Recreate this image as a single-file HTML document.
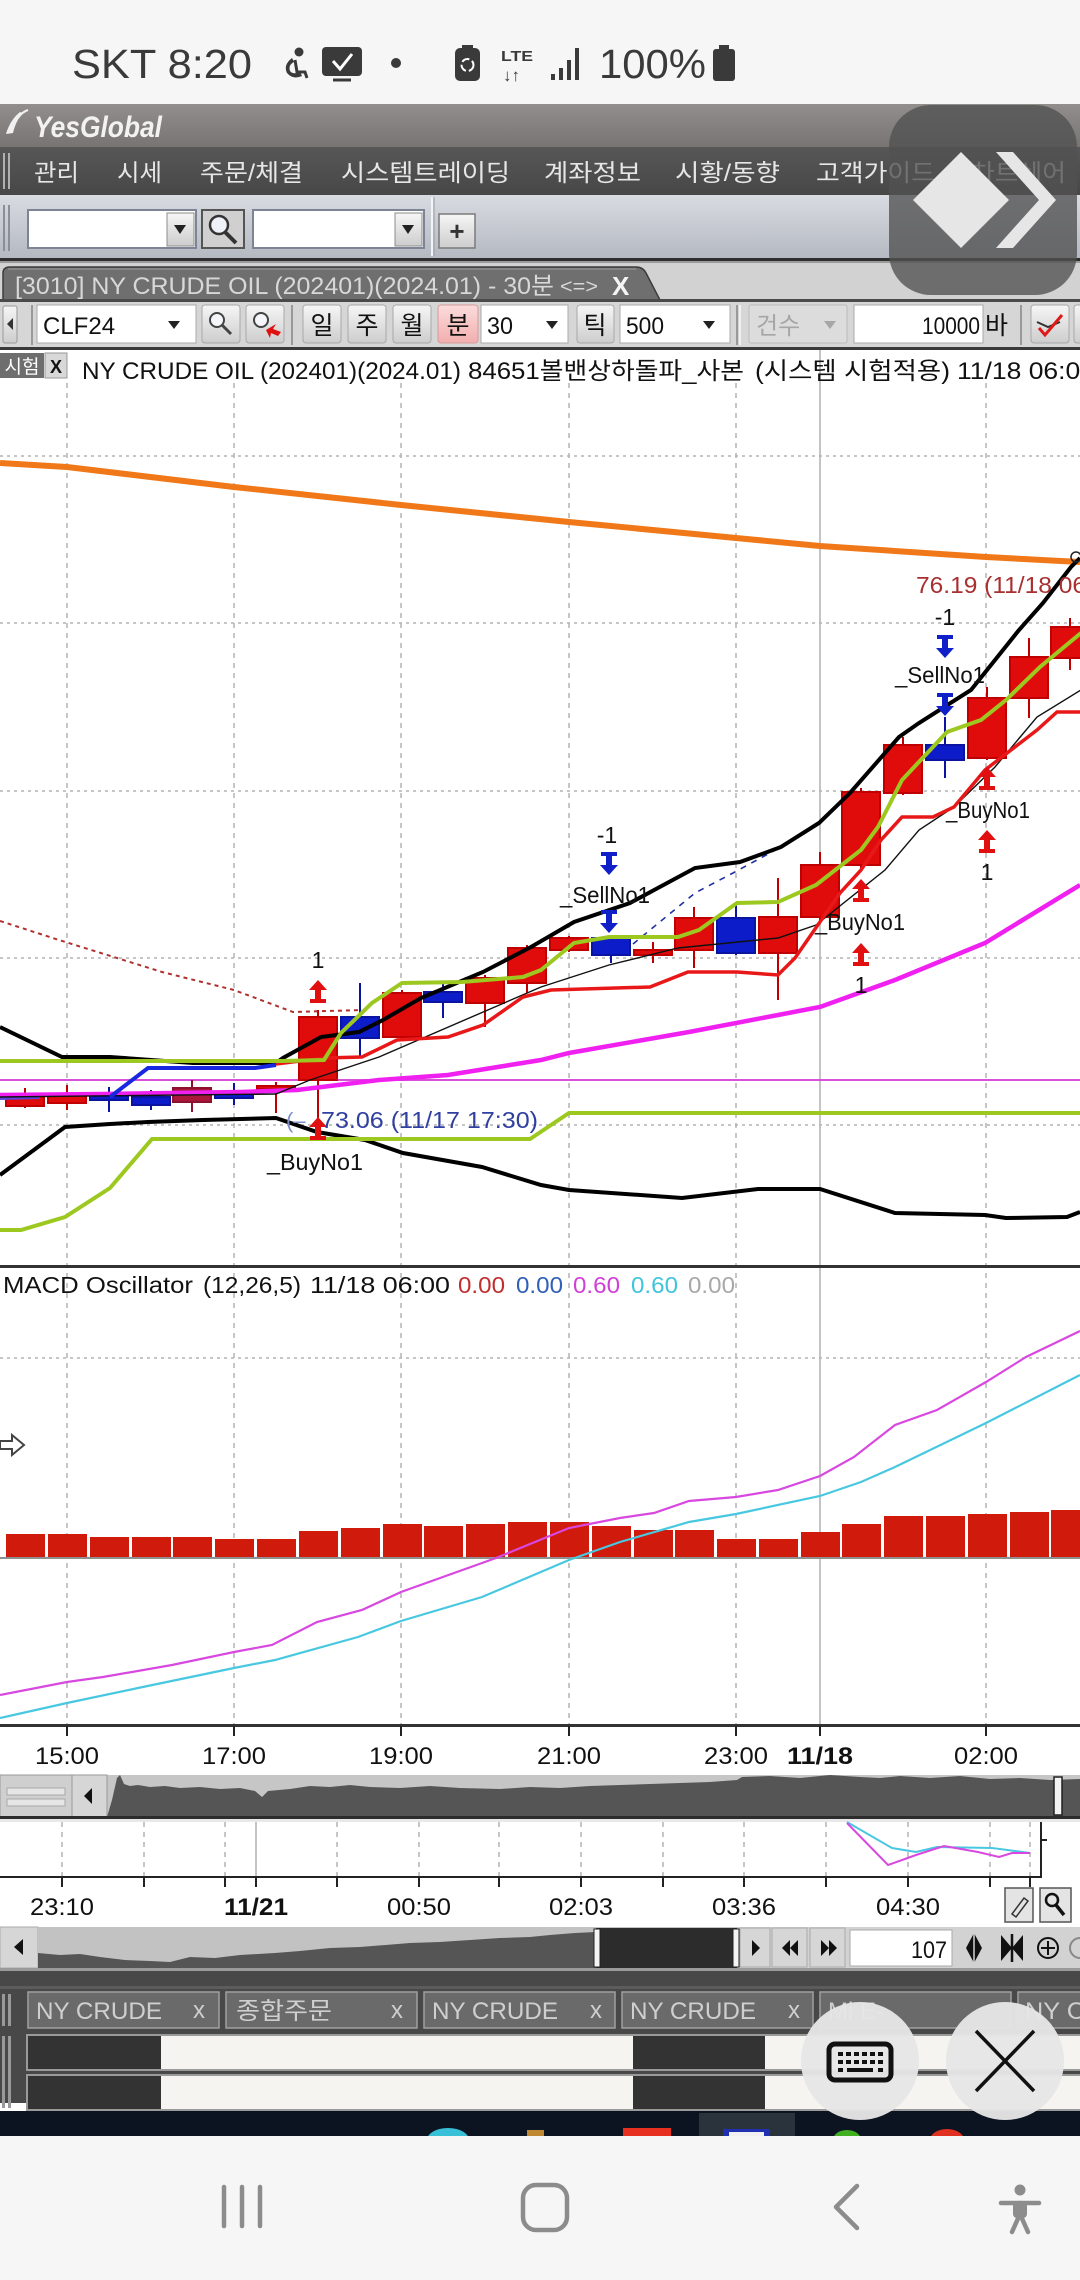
<!DOCTYPE html>
<html><head><meta charset="utf-8">
<style>
html,body{margin:0;padding:0;background:#fff;}
body{width:1080px;height:2280px;overflow:hidden;}
svg{display:block;}
text{font-family:"Liberation Sans","Noto Sans CJK KR",sans-serif;}
</style></head><body>
<svg width="1080" height="2280" viewBox="0 0 1080 2280" xmlns="http://www.w3.org/2000/svg">
<defs>
<linearGradient id="gTitle" x1="0" y1="0" x2="0" y2="1"><stop offset="0" stop-color="#928e8d"/><stop offset="1" stop-color="#787473"/></linearGradient>
<linearGradient id="gTool" x1="0" y1="0" x2="0" y2="1"><stop offset="0" stop-color="#d8dbe1"/><stop offset="1" stop-color="#b5b9c1"/></linearGradient>
<linearGradient id="gBtn" x1="0" y1="0" x2="0" y2="1"><stop offset="0" stop-color="#f6f6f6"/><stop offset="1" stop-color="#cdcdcd"/></linearGradient>
<linearGradient id="gPink" x1="0" y1="0" x2="0" y2="1"><stop offset="0" stop-color="#fcdcdc"/><stop offset="1" stop-color="#f2aeae"/></linearGradient>
<linearGradient id="gMenu" x1="0" y1="0" x2="0" y2="1"><stop offset="0" stop-color="#575757"/><stop offset="1" stop-color="#474747"/></linearGradient>
</defs>

<!-- ============ STATUS BAR ============ -->
<rect x="0" y="0" width="1080" height="104" fill="#f6f6f6"/>
<text x="72" y="78" font-size="41" fill="#3a3a3a" textLength="180" lengthAdjust="spacingAndGlyphs">SKT 8:20</text>
<circle cx="299" cy="52" r="4.5" fill="#3a3a3a"/>
<path d="M292,58 q-9,7 -5,15 q6,7 15,3 l-2,-4 q-7,3 -10,-1 q-2,-6 4,-9 z" fill="#3a3a3a"/>
<path d="M295,60 l2,12 l8,0 l2,6" stroke="#3a3a3a" stroke-width="3" fill="none"/>
<rect x="322" y="47" width="40" height="29" rx="4" fill="#3a3a3a"/>
<polyline points="333,61 340,69 352,54" stroke="#fff" stroke-width="3" fill="none"/>
<line x1="333" y1="80" x2="351" y2="80" stroke="#3a3a3a" stroke-width="3"/>
<circle cx="396" cy="63" r="5" fill="#3a3a3a"/>
<rect x="462" y="45" width="11" height="5" fill="#3a3a3a"/>
<rect x="455" y="48" width="25" height="33" rx="5" fill="#3a3a3a"/>
<circle cx="467.5" cy="65" r="6" fill="none" stroke="#fff" stroke-width="2" stroke-dasharray="8,3"/>
<text x="501" y="61" font-size="15" font-weight="bold" fill="#3a3a3a" textLength="32" lengthAdjust="spacingAndGlyphs">LTE</text>
<text x="503" y="81" font-size="17" fill="#3a3a3a">↓↑</text>
<rect x="551" y="74" width="4" height="6" fill="#3a3a3a"/>
<rect x="559" y="68" width="4" height="12" fill="#3a3a3a"/>
<rect x="567" y="60" width="4" height="20" fill="#3a3a3a"/>
<rect x="575" y="48" width="4" height="32" fill="#3a3a3a"/>
<text x="599" y="78" font-size="41" fill="#3a3a3a" textLength="107" lengthAdjust="spacingAndGlyphs">100%</text>
<rect x="719" y="45" width="10" height="5" fill="#3a3a3a"/>
<rect x="713" y="49" width="22" height="32" rx="3" fill="#3a3a3a"/>

<!-- ============ YESGLOBAL BAR ============ -->
<rect x="0" y="104" width="1080" height="43" fill="url(#gTitle)"/>
<path d="M6,134 q4,-14 14,-22 l3,1 q-7,7 -10,20 z" fill="#f0f0f0"/>
<path d="M18,118 q4,-6 10,-8" stroke="#f0f0f0" stroke-width="2" fill="none"/>
<text x="34" y="137" font-size="30" font-style="italic" font-weight="bold" fill="#f2f2f2" textLength="128" lengthAdjust="spacingAndGlyphs">YesGlobal</text>

<!-- ============ MENU BAR ============ -->
<rect x="0" y="147" width="1080" height="48" fill="url(#gMenu)"/>
<rect x="3" y="153" width="2" height="36" fill="#b0b0b0"/>
<rect x="8" y="153" width="2" height="36" fill="#b0b0b0"/>
<g font-size="24" fill="#e6e6e6">
<text x="34" y="181" textLength="45" lengthAdjust="spacingAndGlyphs">관리</text>
<text x="117" y="181" textLength="45" lengthAdjust="spacingAndGlyphs">시세</text>
<text x="200" y="181" textLength="103" lengthAdjust="spacingAndGlyphs">주문/체결</text>
<text x="341" y="181" textLength="169" lengthAdjust="spacingAndGlyphs">시스템트레이딩</text>
<text x="544" y="181" textLength="97" lengthAdjust="spacingAndGlyphs">계좌정보</text>
<text x="675" y="181" textLength="105" lengthAdjust="spacingAndGlyphs">시황/동향</text>
<text x="816" y="181" textLength="119" lengthAdjust="spacingAndGlyphs">고객가이드</text>
<text x="971" y="181" textLength="95" lengthAdjust="spacingAndGlyphs">차트쉐어</text>
</g>

<!-- ============ TOOLBAR 1 ============ -->
<rect x="0" y="195" width="1080" height="63" fill="url(#gTool)"/>
<rect x="3" y="205" width="2" height="46" fill="#8a8e96"/>
<rect x="8" y="205" width="2" height="46" fill="#8a8e96"/>
<rect x="28" y="210" width="168" height="38" fill="#fff" stroke="#7d8594" stroke-width="2"/>
<rect x="167" y="213" width="27" height="33" fill="url(#gBtn)" stroke="#8c8c8c"/>
<polygon points="174,225 186,225 180,234" fill="#222"/>
<rect x="202" y="210" width="42" height="38" fill="#d0d0d0" stroke="#555" stroke-width="2"/>
<circle cx="219" cy="225" r="9" fill="#eef2f8" stroke="#333" stroke-width="2.5"/>
<line x1="225" y1="232" x2="236" y2="243" stroke="#333" stroke-width="4"/>
<rect x="253" y="210" width="171" height="38" fill="#fff" stroke="#7d8594" stroke-width="2"/>
<rect x="395" y="213" width="27" height="33" fill="url(#gBtn)" stroke="#8c8c8c"/>
<polygon points="402,225 414,225 408,234" fill="#222"/>
<line x1="432" y1="197" x2="432" y2="256" stroke="#f2f4f8" stroke-width="2"/>
<line x1="434" y1="197" x2="434" y2="256" stroke="#9a9ea6" stroke-width="1"/>
<rect x="439" y="214" width="36" height="34" fill="url(#gBtn)" stroke="#7a7a7a" stroke-width="1.5"/>
<text x="457" y="240" font-size="26" font-weight="bold" fill="#333" text-anchor="middle">+</text>
<rect x="0" y="258" width="1080" height="3" fill="#2e2e2e"/>
<rect x="0" y="261" width="1080" height="2" fill="#9a9a9a"/>

<!-- ============ TAB ROW ============ -->
<rect x="0" y="263" width="1080" height="37" fill="#d2d2d2"/>
<path d="M3,300 L3,273 Q3,267 10,267 L636,267 Q643,267 646,273 L660,300 Z" fill="#6f6f6f" stroke="#3c3c3c" stroke-width="1.5"/>
<line x1="8" y1="269" x2="636" y2="269" stroke="#8e8e8e" stroke-width="1.5"/>
<text x="15" y="294" font-size="24" fill="#d8d8d8" textLength="539" lengthAdjust="spacingAndGlyphs">[3010] NY CRUDE OIL (202401)(2024.01) - 30분</text>
<text x="560" y="293" font-size="20" fill="#d8d8d8" textLength="38" lengthAdjust="spacingAndGlyphs">&lt;=&gt;</text>
<text x="612" y="295" font-size="26" font-weight="bold" fill="#f4f4f4">X</text>
<rect x="0" y="299" width="1080" height="3" fill="#4a4a4a"/>

<!-- ============ TOOLBAR 2 ============ -->
<rect x="0" y="302" width="1080" height="46" fill="#d6d6d6"/>
<rect x="3" y="306" width="14" height="37" rx="2" fill="url(#gBtn)" stroke="#999"/>
<polygon points="13,318 7,324 13,330" fill="#333"/>
<line x1="32" y1="305" x2="32" y2="345" stroke="#999" stroke-width="2"/>
<rect x="37" y="305" width="159" height="38" fill="#fff" stroke="#aaa"/>
<text x="43" y="334" font-size="24" fill="#111">CLF24</text>
<polygon points="168,321 180,321 174,329" fill="#222"/>
<rect x="202" y="305" width="38" height="38" rx="3" fill="url(#gBtn)" stroke="#a8a8a8"/>
<circle cx="217" cy="320" r="7" fill="#f4f6fa" stroke="#444" stroke-width="2"/>
<line x1="222" y1="325" x2="231" y2="334" stroke="#444" stroke-width="3"/>
<rect x="246" y="305" width="38" height="38" rx="3" fill="url(#gBtn)" stroke="#a8a8a8"/>
<circle cx="261" cy="320" r="7" fill="#f4f6fa" stroke="#444" stroke-width="2"/>
<path d="M266,330 l10,-6 l-3,5 l8,3 l-3,4 l-7,-3 l-1,5 z" fill="#e01010"/>
<line x1="292" y1="305" x2="292" y2="345" stroke="#999" stroke-width="2"/>
<g font-size="25" fill="#111" text-anchor="middle">
<rect x="303" y="305" width="38" height="38" rx="3" fill="url(#gBtn)" stroke="#a8a8a8"/>
<text x="322" y="334">일</text>
<rect x="348" y="305" width="38" height="38" rx="3" fill="url(#gBtn)" stroke="#a8a8a8"/>
<text x="367" y="334">주</text>
<rect x="393" y="305" width="38" height="38" rx="3" fill="url(#gBtn)" stroke="#a8a8a8"/>
<text x="412" y="334">월</text>
<rect x="438" y="305" width="40" height="38" rx="3" fill="url(#gPink)" stroke="#d89a9a"/>
<text x="458" y="334">분</text>
<rect x="577" y="305" width="37" height="38" rx="3" fill="url(#gBtn)" stroke="#a8a8a8"/>
<text x="595" y="334">틱</text>
</g>
<rect x="481" y="305" width="87" height="38" fill="#fff" stroke="#aaa"/>
<text x="487" y="334" font-size="24" fill="#111" textLength="26" lengthAdjust="spacingAndGlyphs">30</text>
<polygon points="546,321 558,321 552,329" fill="#222"/>
<rect x="620" y="305" width="110" height="38" fill="#fff" stroke="#aaa"/>
<text x="626" y="334" font-size="24" fill="#111" textLength="38" lengthAdjust="spacingAndGlyphs">500</text>
<polygon points="703,321 715,321 709,329" fill="#222"/>
<line x1="737" y1="305" x2="737" y2="345" stroke="#999" stroke-width="2"/>
<line x1="740" y1="305" x2="740" y2="345" stroke="#f0f0f0" stroke-width="2"/>
<rect x="749" y="305" width="98" height="38" rx="2" fill="#dcdcdc" stroke="#bbb"/>
<text x="756" y="334" font-size="24" fill="#a6a6a6">건수</text>
<polygon points="824,321 836,321 830,329" fill="#a6a6a6"/>
<rect x="854" y="305" width="129" height="38" fill="#fff" stroke="#aaa"/>
<text x="980" y="334" font-size="24" fill="#111" text-anchor="end" textLength="58" lengthAdjust="spacingAndGlyphs">10000</text>
<text x="985" y="334" font-size="25" fill="#111">바</text>
<line x1="1021" y1="305" x2="1021" y2="345" stroke="#999" stroke-width="2"/>
<rect x="1031" y="305" width="38" height="38" rx="3" fill="url(#gBtn)" stroke="#a8a8a8"/>
<polyline points="1037,322 1048,327 1060,322" stroke="#333" stroke-width="2" fill="none"/>
<polyline points="1039,328 1045,335 1062,315" stroke="#e01818" stroke-width="3" fill="none"/>
<rect x="1074" y="305" width="10" height="38" rx="3" fill="url(#gBtn)" stroke="#a8a8a8"/>
<rect x="0" y="347" width="1080" height="3" fill="#3a3a3a"/>

<!-- ============ CHART AREA ============ -->
<rect x="0" y="350" width="1080" height="1425" fill="#ffffff"/>

<!-- grid vertical dashed -->
<g stroke="#a8a8a8" stroke-width="1.3" stroke-dasharray="5,5">
<line x1="67" y1="383" x2="67" y2="1725"/>
<line x1="234" y1="383" x2="234" y2="1725"/>
<line x1="401" y1="383" x2="401" y2="1725"/>
<line x1="569" y1="383" x2="569" y2="1725"/>
<line x1="736" y1="383" x2="736" y2="1725"/>
<line x1="986" y1="383" x2="986" y2="1725"/>
</g>
<line x1="820" y1="350" x2="820" y2="1725" stroke="#c4c4c4" stroke-width="2"/>
<!-- grid horizontal dotted -->
<g stroke="#b4b4b4" stroke-width="1.6" stroke-dasharray="3,4">
<line x1="0" y1="456" x2="1080" y2="456"/>
<line x1="0" y1="623" x2="1080" y2="623"/>
<line x1="0" y1="791" x2="1080" y2="791"/>
<line x1="0" y1="958" x2="1080" y2="958"/>
<line x1="0" y1="1125" x2="1080" y2="1125"/>
<line x1="0" y1="1358" x2="1080" y2="1358"/>
</g>

<!-- title line -->
<rect x="0" y="353" width="44" height="25" fill="#6e6e6e"/>
<text x="22" y="373" font-size="19" fill="#fff" text-anchor="middle">시험</text>
<rect x="45" y="353" width="22" height="25" fill="#d8d8d8" stroke="#999"/>
<text x="56" y="373" font-size="18" font-weight="bold" fill="#111" text-anchor="middle">X</text>
<g font-size="24" fill="#111">
<text x="82" y="379" textLength="379" lengthAdjust="spacingAndGlyphs">NY CRUDE OIL (202401)(2024.01)</text>
<text x="468" y="379" textLength="276" lengthAdjust="spacingAndGlyphs">84651볼밴상하돌파_사본</text>
<text x="755" y="379" textLength="195" lengthAdjust="spacingAndGlyphs">(시스템 시험적용)</text>
<text x="957" y="379" textLength="138" lengthAdjust="spacingAndGlyphs">11/18 06:00</text>
</g>

<!-- orange line -->
<polyline points="0,463 67,467 234,487 401,505 569,522 736,538 820,546 986,557 1080,562" fill="none" stroke="#f07818" stroke-width="6"/>

<!-- dotted red -->
<polyline points="0,921 59,940 162,972 234,990 293,1012 362,1010" fill="none" stroke="#b03030" stroke-width="2" stroke-dasharray="4,4"/>
<!-- blue dashed -->
<polyline points="633,944 695,893 733,873 781,847 826,817" fill="none" stroke="#2030a0" stroke-width="1.6" stroke-dasharray="6,6"/>

<!-- horizontal thin magenta -->
<line x1="0" y1="1080" x2="1080" y2="1080" stroke="#d850d8" stroke-width="2"/>

<!-- candles -->
<g stroke-width="2">
<g fill="#e00c0c" stroke="#c00000">
<line x1="25" y1="1088" x2="25" y2="1108"/><rect x="6" y="1096" width="38" height="10"/>
<line x1="67" y1="1085" x2="67" y2="1110"/><rect x="48" y="1095" width="38" height="8"/>
<line x1="276" y1="1082" x2="276" y2="1113"/><rect x="257" y="1086" width="38" height="3"/>
<line x1="318" y1="1010" x2="318" y2="1130"/><rect x="299" y="1017" width="38" height="63"/>
<line x1="402" y1="990" x2="402" y2="1040"/><rect x="383" y="993" width="38" height="44"/>
<line x1="485" y1="975" x2="485" y2="1027"/><rect x="466" y="978" width="38" height="25"/>
<line x1="527" y1="945" x2="527" y2="993"/><rect x="508" y="948" width="38" height="35"/>
<line x1="569" y1="936" x2="569" y2="952"/><rect x="550" y="938" width="38" height="12"/>
<line x1="653" y1="942" x2="653" y2="963"/><rect x="634" y="950" width="38" height="5"/>
<line x1="694" y1="907" x2="694" y2="968"/><rect x="675" y="918" width="38" height="32"/>
<line x1="778" y1="878" x2="778" y2="1000"/><rect x="759" y="917" width="38" height="36"/>
<line x1="820" y1="852" x2="820" y2="920"/><rect x="801" y="865" width="38" height="52"/>
<line x1="861" y1="788" x2="861" y2="868"/><rect x="842" y="792" width="38" height="73"/>
<line x1="903" y1="737" x2="903" y2="795"/><rect x="884" y="745" width="38" height="48"/>
<line x1="987" y1="687" x2="987" y2="760"/><rect x="968" y="698" width="38" height="60"/>
<line x1="1029" y1="638" x2="1029" y2="718"/><rect x="1010" y="657" width="38" height="41"/>
<line x1="1070" y1="618" x2="1070" y2="670"/><rect x="1051" y="627" width="38" height="31"/>
</g>
<g fill="#a8183a" stroke="#901030">
<line x1="192" y1="1080" x2="192" y2="1112"/><rect x="173" y="1088" width="38" height="14"/>
</g>
<g fill="#0c1cc8" stroke="#0a14a0">
<line x1="109" y1="1087" x2="109" y2="1112"/><rect x="90" y="1096" width="38" height="4"/>
<line x1="151" y1="1090" x2="151" y2="1110"/><rect x="132" y="1097" width="38" height="8"/>
<line x1="234" y1="1083" x2="234" y2="1105"/><rect x="215" y="1094" width="38" height="4"/>
<line x1="360" y1="983" x2="360" y2="1058"/><rect x="341" y="1017" width="38" height="21"/>
<line x1="443" y1="983" x2="443" y2="1018"/><rect x="424" y="992" width="38" height="10"/>
<line x1="611" y1="935" x2="611" y2="963"/><rect x="592" y="938" width="38" height="17"/>
<line x1="736" y1="902" x2="736" y2="955"/><rect x="717" y="918" width="38" height="35"/>
<line x1="945" y1="717" x2="945" y2="778"/><rect x="926" y="745" width="38" height="15"/>
</g>
</g>

<polyline points="0,1098 40,1097" stroke="#6040e0" stroke-width="4" fill="none"/>

<!-- magenta thick -->
<polyline points="0,1095 103,1094 241,1092 297,1090 379,1080 448,1075 541,1060 569,1053 689,1032 820,1007 895,980 985,943 1080,885" fill="none" stroke="#f020f0" stroke-width="4.5"/>

<!-- black upper band -->
<polyline points="0,1027 62,1057 110,1057 193,1063 276,1063 283,1058 321,1037 359,1032 383,1020 421,998 483,972 531,947 574,922 630,903 695,868 740,862 781,847 819,823 850,793 899,737 919,723 971,690 1019,630 1043,603 1071,567 1080,558" fill="none" stroke="#000" stroke-width="4"/>
<!-- black lower band -->
<polyline points="0,1175 65,1127 110,1124 148,1122 203,1120 276,1118 317,1132 365,1140 403,1153 482,1167 541,1185 569,1190 682,1198 758,1189 820,1189 895,1213 985,1215 1006,1218 1067,1217 1080,1212" fill="none" stroke="#000" stroke-width="4"/>

<!-- thin black MA -->
<polyline points="0,1097 276,1094 310,1080 379,1057 541,987 609,965 678,948 778,938 816,925 885,870 919,830 954,807 995,767 1037,717 1081,690" fill="none" stroke="#111" stroke-width="1.4"/>

<!-- blue thick -->
<polyline points="110,1097 148,1068 255,1068 276,1065" fill="none" stroke="#1828e0" stroke-width="4"/>

<!-- red line -->
<polyline points="276,1064 324,1058 362,1057 397,1040 448,1037 483,1025 523,997 551,990 650,987 688,972 737,972 778,975 795,958 840,893 861,870 881,840 902,817 933,817 954,807 985,770 1037,730 1057,712 1081,712" fill="none" stroke="#e81818" stroke-width="3.5"/>

<!-- green upper/MA -->
<polyline points="0,1061 282,1061 324,1060 341,1033 372,1003 402,983 462,982 523,977 541,970 574,943 609,937 678,937 699,930 737,903 778,902 816,885 861,850 878,827 902,780 947,732 981,720 1006,700 1040,667 1081,633" fill="none" stroke="#9cc820" stroke-width="4"/>
<!-- green lower -->
<polyline points="0,1230 21,1230 65,1217 110,1188 152,1139 530,1139 569,1113 1080,1113" fill="none" stroke="#9cc820" stroke-width="4"/>

<circle cx="1076" cy="557" r="5" fill="none" stroke="#222" stroke-width="1.5"/>

<!-- markers: up arrows (red) -->
<g fill="#e01010">
<path d="M318,980 l9,10 h-6 v9 h5 v4 h-16 v-4 h5 v-9 h-6 z"/>
<path d="M318,1117 l9,10 h-6 v9 h5 v4 h-16 v-4 h5 v-9 h-6 z"/>
<path d="M861,879 l9,10 h-6 v9 h5 v4 h-16 v-4 h5 v-9 h-6 z"/>
<path d="M861,943 l9,10 h-6 v9 h5 v4 h-16 v-4 h5 v-9 h-6 z"/>
<path d="M987,767 l9,10 h-6 v9 h5 v4 h-16 v-4 h5 v-9 h-6 z"/>
<path d="M987,830 l9,10 h-6 v9 h5 v4 h-16 v-4 h5 v-9 h-6 z"/>
</g>
<!-- down arrows (blue) -->
<g fill="#1020c8">
<path d="M601,852 h16 v4 h-5 v9 h6 l-9,10 l-9,-10 h6 v-9 h-5 z"/>
<path d="M601,910 h16 v4 h-5 v9 h6 l-9,10 l-9,-10 h6 v-9 h-5 z"/>
<path d="M937,635 h16 v4 h-5 v9 h6 l-9,10 l-9,-10 h6 v-9 h-5 z"/>
<path d="M937,693 h16 v4 h-5 v9 h6 l-9,10 l-9,-10 h6 v-9 h-5 z"/>
</g>
<g font-size="23" fill="#111" text-anchor="middle">
<text x="318" y="968">1</text>
<text x="315" y="1170" textLength="96" lengthAdjust="spacingAndGlyphs">_BuyNo1</text>
<text x="607" y="843">-1</text>
<text x="605" y="903" textLength="90" lengthAdjust="spacingAndGlyphs">_SellNo1</text>
<text x="860" y="930" textLength="90" lengthAdjust="spacingAndGlyphs">_BuyNo1</text>
<text x="861" y="993">1</text>
<text x="945" y="625">-1</text>
<text x="940" y="683" textLength="90" lengthAdjust="spacingAndGlyphs">_SellNo1</text>
<text x="988" y="818" textLength="84" lengthAdjust="spacingAndGlyphs">_BuyNo1</text>
<text x="987" y="880">1</text>
</g>
<text x="916" y="593" font-size="23" fill="#a83030" textLength="170" lengthAdjust="spacingAndGlyphs">76.19 (11/18 06</text>
<text x="286" y="1128" font-size="22" fill="#8090c8">(–</text>
<text x="321" y="1128" font-size="23" fill="#3040a0" textLength="217" lengthAdjust="spacingAndGlyphs">73.06 (11/17 17:30)</text>

<!-- divider main / MACD -->
<rect x="0" y="1265" width="1080" height="3" fill="#333"/>

<!-- ============ MACD ============ -->
<g font-size="23">
<text x="3" y="1293" fill="#111" textLength="190" lengthAdjust="spacingAndGlyphs">MACD Oscillator</text>
<text x="203" y="1293" fill="#111" textLength="98" lengthAdjust="spacingAndGlyphs">(12,26,5)</text>
<text x="310" y="1293" fill="#111" textLength="140" lengthAdjust="spacingAndGlyphs">11/18 06:00</text>
<text x="458" y="1293" fill="#c03030" textLength="47" lengthAdjust="spacingAndGlyphs">0.00</text>
<text x="516" y="1293" fill="#3060b8" textLength="47" lengthAdjust="spacingAndGlyphs">0.00</text>
<text x="573" y="1293" fill="#d040d8" textLength="47" lengthAdjust="spacingAndGlyphs">0.60</text>
<text x="631" y="1293" fill="#40c4dc" textLength="47" lengthAdjust="spacingAndGlyphs">0.60</text>
<text x="688" y="1293" fill="#a8a8a8" textLength="47" lengthAdjust="spacingAndGlyphs">0.00</text>
</g>
<path d="M0,1441 h12 v-6 l12,10 l-12,10 v-6 h-12 z" fill="#fff" stroke="#444" stroke-width="2"/>

<!-- histogram -->
<g fill="#d01a0c">
<rect x="6" y="1534" width="39" height="24"/>
<rect x="48" y="1534" width="39" height="24"/>
<rect x="90" y="1537" width="39" height="21"/>
<rect x="132" y="1537" width="39" height="21"/>
<rect x="173" y="1537" width="39" height="21"/>
<rect x="215" y="1539" width="39" height="19"/>
<rect x="257" y="1539" width="39" height="19"/>
<rect x="299" y="1531" width="39" height="27"/>
<rect x="341" y="1528" width="39" height="30"/>
<rect x="383" y="1524" width="39" height="34"/>
<rect x="424" y="1526" width="39" height="32"/>
<rect x="466" y="1524" width="39" height="34"/>
<rect x="508" y="1522" width="39" height="36"/>
<rect x="550" y="1522" width="39" height="36"/>
<rect x="592" y="1526" width="39" height="32"/>
<rect x="634" y="1530" width="39" height="28"/>
<rect x="675" y="1530" width="39" height="28"/>
<rect x="717" y="1539" width="39" height="19"/>
<rect x="759" y="1539" width="39" height="19"/>
<rect x="801" y="1532" width="39" height="26"/>
<rect x="842" y="1524" width="39" height="34"/>
<rect x="884" y="1516" width="39" height="42"/>
<rect x="926" y="1516" width="39" height="42"/>
<rect x="968" y="1514" width="39" height="44"/>
<rect x="1010" y="1512" width="39" height="46"/>
<rect x="1051" y="1510" width="39" height="48"/>
</g>
<line x1="0" y1="1558" x2="1080" y2="1558" stroke="#909090" stroke-width="2"/>

<polyline points="0,1695 67,1682 103,1677 172,1665 234,1652 272,1645 317,1622 362,1610 401,1592 496,1558 569,1528 620,1518 654,1513 689,1501 736,1497 778,1490 820,1476 854,1457 895,1425 937,1410 986,1382 1026,1357 1080,1331" fill="none" stroke="#d848e0" stroke-width="2.2"/>
<polyline points="0,1718 67,1703 138,1688 234,1668 275,1660 358,1637 401,1621 482,1597 569,1560 620,1542 689,1522 736,1514 820,1496 861,1482 895,1467 986,1423 1080,1375" fill="none" stroke="#48c8e0" stroke-width="2.2"/>

<rect x="0" y="1724" width="1080" height="3" fill="#333"/>
<g stroke="#222" stroke-width="2">
<line x1="67" y1="1726" x2="67" y2="1736"/>
<line x1="234" y1="1726" x2="234" y2="1736"/>
<line x1="401" y1="1726" x2="401" y2="1736"/>
<line x1="569" y1="1726" x2="569" y2="1736"/>
<line x1="736" y1="1726" x2="736" y2="1736"/>
<line x1="820" y1="1726" x2="820" y2="1736"/>
<line x1="986" y1="1726" x2="986" y2="1736"/>
</g>
<g font-size="24" fill="#111" text-anchor="middle">
<text x="67" y="1764" textLength="64" lengthAdjust="spacingAndGlyphs">15:00</text>
<text x="234" y="1764" textLength="64" lengthAdjust="spacingAndGlyphs">17:00</text>
<text x="401" y="1764" textLength="64" lengthAdjust="spacingAndGlyphs">19:00</text>
<text x="569" y="1764" textLength="64" lengthAdjust="spacingAndGlyphs">21:00</text>
<text x="736" y="1764" textLength="64" lengthAdjust="spacingAndGlyphs">23:00</text>
<text x="820" y="1764" font-weight="bold" textLength="66" lengthAdjust="spacingAndGlyphs">11/18</text>
<text x="986" y="1764" textLength="64" lengthAdjust="spacingAndGlyphs">02:00</text>
</g>

<!-- ============ SCROLL ROW 1 ============ -->
<rect x="0" y="1775" width="1080" height="42" fill="#c6c6c6"/>
<rect x="0" y="1775" width="72" height="42" fill="#cfcfcf" stroke="#9a9a9a"/>
<rect x="7" y="1788" width="58" height="7" fill="#e6e6e6" stroke="#a8a8a8"/>
<rect x="7" y="1799" width="58" height="7" fill="#e6e6e6" stroke="#a8a8a8"/>
<rect x="72" y="1775" width="35" height="42" fill="#d6d6d6" stroke="#9a9a9a"/>
<polygon points="92,1788 84,1796 92,1804" fill="#111"/>
<path d="M107,1817 L112,1800 L117,1778 L120,1775 L124,1784 L130,1786 L138,1785 L150,1787 L165,1786 L180,1788 L200,1787 L220,1789 L240,1788 L255,1791 L262,1797 L268,1791 L290,1789 L310,1786 L330,1787 L350,1785 L370,1787 L400,1788 L430,1786 L460,1788 L500,1789 L530,1787 L560,1788 L590,1786 L620,1785 L650,1784 L680,1783 L710,1782 L737,1780 L742,1777 L770,1776 L800,1778 L830,1775 L860,1777 L880,1778 L900,1776 L930,1778 L960,1776 L990,1779 L1020,1778 L1050,1780 L1080,1779 L1080,1817 Z" fill="#555"/>
<rect x="1054" y="1777" width="8" height="38" fill="#f2f2f2" stroke="#222" stroke-width="1.5"/>
<rect x="0" y="1816" width="1080" height="3" fill="#2c2c2c"/>
<rect x="0" y="1819" width="1080" height="3" fill="#e8e8e8"/>

<!-- ============ MINI PANEL ============ -->
<rect x="0" y="1822" width="1041" height="55" fill="#fff"/>
<g stroke="#a8a8a8" stroke-width="1.3" stroke-dasharray="5,5">
<line x1="62" y1="1822" x2="62" y2="1877"/>
<line x1="144" y1="1822" x2="144" y2="1877"/>
<line x1="225" y1="1822" x2="225" y2="1877"/>
<line x1="337" y1="1822" x2="337" y2="1877"/>
<line x1="419" y1="1822" x2="419" y2="1877"/>
<line x1="499" y1="1822" x2="499" y2="1877"/>
<line x1="581" y1="1822" x2="581" y2="1877"/>
<line x1="663" y1="1822" x2="663" y2="1877"/>
<line x1="744" y1="1822" x2="744" y2="1877"/>
<line x1="826" y1="1822" x2="826" y2="1877"/>
<line x1="908" y1="1822" x2="908" y2="1877"/>
<line x1="990" y1="1822" x2="990" y2="1877"/>
<line x1="1030" y1="1822" x2="1030" y2="1877"/>
</g>
<line x1="256" y1="1822" x2="256" y2="1877" stroke="#c4c4c4" stroke-width="2"/>
<polyline points="847,1822 892,1848 916,1852 937,1847 992,1848 1030,1853" fill="none" stroke="#48c8e0" stroke-width="2"/>
<polyline points="847,1823 888,1865 916,1855 944,1846 978,1852 999,1857 1012,1853 1030,1853" fill="none" stroke="#d848e0" stroke-width="2"/>
<line x1="1041" y1="1822" x2="1041" y2="1878" stroke="#222" stroke-width="2"/>
<line x1="1041" y1="1840" x2="1047" y2="1840" stroke="#222" stroke-width="2"/>
<rect x="0" y="1876" width="1042" height="2" fill="#222"/>
<g stroke="#222" stroke-width="2">
<line x1="62" y1="1877" x2="62" y2="1887"/><line x1="144" y1="1877" x2="144" y2="1887"/>
<line x1="225" y1="1877" x2="225" y2="1887"/><line x1="256" y1="1877" x2="256" y2="1887"/>
<line x1="337" y1="1877" x2="337" y2="1887"/><line x1="419" y1="1877" x2="419" y2="1887"/>
<line x1="499" y1="1877" x2="499" y2="1887"/><line x1="581" y1="1877" x2="581" y2="1887"/>
<line x1="663" y1="1877" x2="663" y2="1887"/><line x1="744" y1="1877" x2="744" y2="1887"/>
<line x1="826" y1="1877" x2="826" y2="1887"/><line x1="908" y1="1877" x2="908" y2="1887"/>
<line x1="990" y1="1877" x2="990" y2="1887"/><line x1="1030" y1="1877" x2="1030" y2="1887"/>
</g>
<g font-size="24" fill="#111" text-anchor="middle">
<text x="62" y="1915" textLength="64" lengthAdjust="spacingAndGlyphs">23:10</text>
<text x="256" y="1915" font-weight="bold" textLength="64" lengthAdjust="spacingAndGlyphs">11/21</text>
<text x="419" y="1915" textLength="64" lengthAdjust="spacingAndGlyphs">00:50</text>
<text x="581" y="1915" textLength="64" lengthAdjust="spacingAndGlyphs">02:03</text>
<text x="744" y="1915" textLength="64" lengthAdjust="spacingAndGlyphs">03:36</text>
<text x="908" y="1915" textLength="64" lengthAdjust="spacingAndGlyphs">04:30</text>
</g>
<rect x="1005" y="1888" width="28" height="34" fill="#e4e4e4" stroke="#555" stroke-width="1.5"/>
<path d="M1012,1914 l12,-16 l4,3 l-12,16 z" fill="none" stroke="#333" stroke-width="1.5"/>
<rect x="1040" y="1888" width="31" height="34" fill="#e4e4e4" stroke="#555" stroke-width="1.5"/>
<circle cx="1052" cy="1900" r="6" fill="none" stroke="#111" stroke-width="2.5"/>
<line x1="1056" y1="1905" x2="1064" y2="1915" stroke="#111" stroke-width="3.5"/>

<!-- ============ SCROLL ROW 2 ============ -->
<rect x="0" y="1927" width="1080" height="41" fill="#d2d2d2"/>
<rect x="0" y="1927" width="38" height="41" fill="#d6d6d6" stroke="#aaa"/>
<polygon points="23,1939 14,1947 23,1955" fill="#111"/>
<rect x="38" y="1927" width="700" height="41" fill="#c2c2c2"/>
<path d="M38,1968 L38,1953 L60,1955 L80,1954 L100,1957 L125,1960 L150,1961 L170,1962 L190,1957 L215,1958 L240,1955 L275,1953 L300,1951 L330,1948 L360,1947 L410,1943 L440,1942 L470,1940 L500,1938 L530,1937 L550,1935 L575,1933 L596,1932 L596,1968 Z" fill="#555"/>
<rect x="596" y="1928" width="141" height="40" fill="#2c2c2c"/>
<rect x="594" y="1929" width="6" height="38" fill="#f4f4f4" stroke="#222"/>
<rect x="733" y="1929" width="6" height="38" fill="#f4f4f4" stroke="#222"/>
<rect x="740" y="1928" width="30" height="39" fill="#d6d6d6" stroke="#aaa"/>
<polygon points="752,1940 760,1948 752,1956" fill="#111"/>
<rect x="772" y="1928" width="35" height="39" fill="#d6d6d6" stroke="#aaa"/>
<polygon points="790,1940 782,1948 790,1956" fill="#111"/><polygon points="798,1940 790,1948 798,1956" fill="#111"/>
<rect x="810" y="1928" width="35" height="39" fill="#d6d6d6" stroke="#aaa"/>
<polygon points="821,1940 829,1948 821,1956" fill="#111"/><polygon points="829,1940 837,1948 829,1956" fill="#111"/>
<rect x="850" y="1930" width="102" height="36" fill="#fff" stroke="#aaa"/>
<text x="947" y="1958" font-size="24" fill="#111" text-anchor="end" textLength="36" lengthAdjust="spacingAndGlyphs">107</text>
<polygon points="966,1948 974,1933 982,1948 974,1963" fill="#111"/>
<line x1="974" y1="1933" x2="974" y2="1963" stroke="#d2d2d2" stroke-width="1.5"/>
<polygon points="1001,1935 1012,1948 1001,1961" fill="#111"/>
<polygon points="1023,1935 1012,1948 1023,1961" fill="#111"/>
<line x1="1012" y1="1934" x2="1012" y2="1962" stroke="#111" stroke-width="2.5"/>
<circle cx="1048" cy="1948" r="10" fill="none" stroke="#111" stroke-width="2"/>
<line x1="1041" y1="1948" x2="1055" y2="1948" stroke="#111" stroke-width="2"/>
<line x1="1048" y1="1941" x2="1048" y2="1955" stroke="#111" stroke-width="2"/>
<circle cx="1080" cy="1948" r="10" fill="none" stroke="#888" stroke-width="2"/>

<!-- ============ BOTTOM TABS ============ -->
<rect x="0" y="1968" width="1080" height="135" fill="#484848"/>
<rect x="0" y="1968" width="1080" height="3" fill="#9a9a9a"/>
<rect x="0" y="1986" width="1080" height="3" fill="#5c5c5c"/>
<rect x="2" y="1994" width="3" height="32" fill="#999"/>
<rect x="8" y="1994" width="3" height="32" fill="#999"/>
<g fill="#6a6a6a" stroke="#a0a0a0" stroke-width="1.5">
<rect x="28" y="1992" width="191" height="36"/>
<rect x="226" y="1992" width="191" height="36"/>
<rect x="424" y="1992" width="191" height="36"/>
<rect x="622" y="1992" width="191" height="36"/>
<rect x="820" y="1992" width="191" height="36"/>
<rect x="1018" y="1992" width="80" height="36"/>
</g>
<g font-size="24" fill="#cfcfcf">
<text x="36" y="2019" textLength="126" lengthAdjust="spacingAndGlyphs">NY CRUDE</text>
<text x="193" y="2018">x</text>
<text x="236" y="2019" textLength="96" lengthAdjust="spacingAndGlyphs">종합주문</text>
<text x="391" y="2018">x</text>
<text x="432" y="2019" textLength="126" lengthAdjust="spacingAndGlyphs">NY CRUDE</text>
<text x="590" y="2018">x</text>
<text x="630" y="2019" textLength="126" lengthAdjust="spacingAndGlyphs">NY CRUDE</text>
<text x="788" y="2018">x</text>
<text x="828" y="2019">Mi    E-</text>
<text x="1025" y="2019" textLength="60" lengthAdjust="spacingAndGlyphs">NY C</text>
</g>
<rect x="2" y="2036" width="3" height="72" fill="#999"/>
<rect x="8" y="2036" width="3" height="72" fill="#999"/>
<rect x="27" y="2035" width="1060" height="35" fill="#f6f4f0" stroke="#9a9a9a" stroke-width="2"/>
<rect x="28" y="2036" width="133" height="33" fill="#333"/>
<rect x="633" y="2036" width="132" height="33" fill="#333"/>
<rect x="27" y="2075" width="1060" height="35" fill="#f6f4f0" stroke="#9a9a9a" stroke-width="2"/>
<rect x="28" y="2076" width="133" height="33" fill="#333"/>
<rect x="633" y="2076" width="132" height="33" fill="#333"/>

<!-- taskbar -->
<rect x="0" y="2111" width="1080" height="25" fill="#0b1420"/>
<rect x="699" y="2113" width="96" height="23" fill="#2a323c"/>
<ellipse cx="448" cy="2140" rx="21" ry="12" fill="#38c0d8"/>
<rect x="527" y="2130" width="17" height="6" fill="#c08830"/>
<rect x="623" y="2128" width="48" height="8" fill="#e83020"/>
<rect x="723" y="2129" width="47" height="7" fill="#2030b0"/>
<rect x="729" y="2132" width="35" height="4" fill="#f0f0f0"/>
<ellipse cx="847" cy="2140" rx="14" ry="10" fill="#40b020"/>
<ellipse cx="947" cy="2140" rx="17" ry="11" fill="#e03020"/>

<!-- ============ NAV BAR ============ -->
<rect x="0" y="2136" width="1080" height="144" fill="#f6f6f6"/>
<g stroke="#8c8c8c" stroke-width="4.5" stroke-linecap="round" fill="none">
<line x1="224" y1="2187" x2="224" y2="2226"/>
<line x1="242" y1="2187" x2="242" y2="2226"/>
<line x1="260" y1="2187" x2="260" y2="2226"/>
<rect x="523" y="2185" width="44" height="45" rx="13"/>
<polyline points="857,2186 836,2207 857,2228" stroke-linejoin="round"/>
<line x1="1001" y1="2203" x2="1039" y2="2203"/>
<line x1="1020" y1="2203" x2="1020" y2="2216"/>
<polyline points="1012,2232 1020,2214 1028,2232" stroke-linejoin="round"/>
</g>
<circle cx="1020" cy="2190" r="5.5" fill="#8c8c8c"/>
<rect x="1013" y="2202" width="14" height="16" rx="4" fill="#8c8c8c"/>

<!-- ============ OVERLAYS ============ -->
<rect x="889" y="105" width="188" height="190" rx="42" fill="#515151" opacity="0.79"/>
<polygon points="913,200 961,152 1009,200 961,248" fill="#e6e6e6"/>
<polygon points="996,152 1013,152 1056,200 1013,248 996,248 1039,200" fill="#e6e6e6"/>

<circle cx="860" cy="2061" r="59" fill="#e6e6e6" opacity="0.96"/>
<rect x="829" y="2044" width="62" height="36" rx="6" fill="none" stroke="#111" stroke-width="5"/>
<g fill="#111">
<rect x="838" y="2052" width="5" height="4"/><rect x="846" y="2052" width="5" height="4"/><rect x="854" y="2052" width="5" height="4"/><rect x="862" y="2052" width="5" height="4"/><rect x="870" y="2052" width="5" height="4"/><rect x="878" y="2052" width="5" height="4"/>
<rect x="838" y="2060" width="5" height="4"/><rect x="846" y="2060" width="5" height="4"/><rect x="854" y="2060" width="5" height="4"/><rect x="862" y="2060" width="5" height="4"/><rect x="870" y="2060" width="5" height="4"/><rect x="878" y="2060" width="5" height="4"/>
<rect x="838" y="2068" width="5" height="4"/><rect x="847" y="2068" width="26" height="4"/><rect x="878" y="2068" width="5" height="4"/>
</g>
<circle cx="1005" cy="2061" r="59" fill="#e6e6e6" opacity="0.96"/>
<line x1="976" y1="2031" x2="1034" y2="2091" stroke="#111" stroke-width="3.5"/>
<line x1="1034" y1="2031" x2="976" y2="2091" stroke="#111" stroke-width="3.5"/>
</svg>
</body></html>
